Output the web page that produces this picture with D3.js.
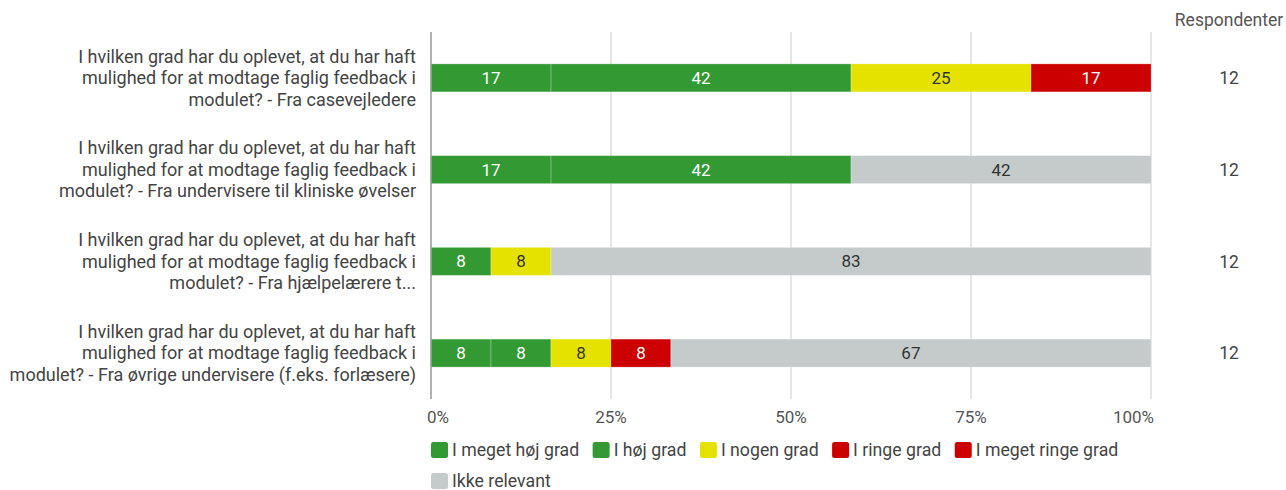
<!DOCTYPE html>
<html>
<head>
<meta charset="utf-8">
<script src="https://cdn.jsdelivr.net/npm/d3@7"></script>
<style>
  body { margin: 0; background: #fff; }
  svg { font-family: Roboto, "Noto Sans", sans-serif; }
</style>
</head>
<body>
<svg id="chart" width="1286" height="490"></svg>
<script>
// questions (y categories)
const questions = [
  ['I hvilken grad har du oplevet, at du har haft', 'mulighed for at modtage faglig feedback i', 'modulet? - Fra casevejledere'],
  ['I hvilken grad har du oplevet, at du har haft', 'mulighed for at modtage faglig feedback i', 'modulet? - Fra undervisere til kliniske øvelser'],
  ['I hvilken grad har du oplevet, at du har haft', 'mulighed for at modtage faglig feedback i', 'modulet? - Fra hjælpelærere t...'],
  ['I hvilken grad har du oplevet, at du har haft', 'mulighed for at modtage faglig feedback i', 'modulet? - Fra øvrige undervisere (f.eks. forlæsere)']
];
const series = ['I meget høj grad', 'I høj grad', 'I nogen grad', 'I ringe grad', 'I meget ringe grad', 'Ikke relevant'];
const colors = ['#339933', '#339933', '#e6e200', '#cc0000', '#cc0000', '#c5cbca'];

// percentages per series, one entry per question
const megetHoj = [16.67, 16.67, 8.33, 8.33];
const hoj = [41.67, 41.67, 0, 8.33];
const nogen = [25, 0, 8.33, 8.33];
const ringe = [16.67, 0, 0, 8.33];
const megetRinge = [0, 0, 0, 0];
const ikkeRelevant = [0, 41.67, 83.33, 66.67];
const respondents = [12, 12, 12, 12];
const ticks = [0, 25, 50, 75, 100];

const values = [megetHoj, hoj, nogen, ringe, megetRinge, ikkeRelevant];

const svg = d3.select('#chart');
const x = d3.scaleLinear().domain([0, 100]).range([431, 1151]);
const y = d3.scaleBand().domain(d3.range(questions.length)).range([32, 399])
  .paddingInner(0.695).paddingOuter(0.3475);

// grid
svg.append('g').selectAll('line').data(ticks.slice(1)).enter().append('line')
  .attr('x1', d => x(d)).attr('x2', d => x(d))
  .attr('y1', 32).attr('y2', 399)
  .attr('stroke', '#cccccc').attr('stroke-width', 1);

// stacked data
const rows = questions.map((q, i) => {
  let acc = 0;
  return values.map((v, s) => {
    const seg = { row: i, s: s, x0: acc, x1: acc + v[i], v: v[i] };
    acc += v[i];
    return seg;
  }).filter(d => d.v > 0);
});

const bars = svg.append('g');
rows.forEach(segs => {
  const g = bars.append('g');
  g.selectAll('rect').data(segs).enter().append('rect')
    .attr('x', d => x(d.x0))
    .attr('width', d => x(d.x1) - x(d.x0))
    .attr('y', d => y(d.row))
    .attr('height', y.bandwidth())
    .attr('fill', d => colors[d.s])
    .attr('stroke', 'rgba(255,255,255,0.25)')
    .attr('stroke-width', 1);
  g.selectAll('text').data(segs).enter().append('text')
    .attr('x', d => (x(d.x0) + x(d.x1)) / 2)
    .attr('y', d => y(d.row) + y.bandwidth() / 2)
    .attr('dy', '0.35em')
    .attr('text-anchor', 'middle')
    .attr('font-size', 17)
    .attr('fill', d => (d.s === 2 || d.s === 5) ? '#333333' : '#ffffff')
    .text(d => Math.round(d.v));
});

// left axis line
svg.append('line')
  .attr('x1', x(0)).attr('x2', x(0)).attr('y1', 32).attr('y2', 399)
  .attr('stroke', '#999999').attr('stroke-width', 1.5);

// tick labels
svg.append('g').selectAll('text').data(ticks).enter().append('text')
  .attr('x', d => d === 0 ? 427 : d === 100 ? 1154 : x(d))
  .attr('y', 417)
  .attr('dy', '0.35em')
  .attr('text-anchor', d => d === 0 ? 'start' : d === 100 ? 'end' : 'middle')
  .attr('font-size', 17)
  .attr('fill', '#555555')
  .text(d => d + '%');

// question labels
questions.forEach((lines, i) => {
  const cy = y(i) + y.bandwidth() / 2;
  const t = svg.append('text')
    .attr('text-anchor', 'end')
    .attr('font-size', 18)
    .attr('fill', '#444444');
  lines.forEach((l, k) => {
    t.append('tspan')
      .attr('x', 416)
      .attr('y', cy + (k - 1) * 21.5)
      .attr('dy', '0.35em')
      .text(l);
  });
});

// respondents column
svg.append('text').attr('x', 1229).attr('y', 20).attr('dy', '0.35em')
  .attr('text-anchor', 'middle').attr('font-size', 17.5).attr('fill', '#555555')
  .text('Respondenter');
svg.append('g').selectAll('text').data(respondents).enter().append('text')
  .attr('x', 1229)
  .attr('y', (d, i) => y(i) + y.bandwidth() / 2)
  .attr('dy', '0.35em')
  .attr('text-anchor', 'middle').attr('font-size', 17.5).attr('fill', '#444444')
  .text(d => d);

// legend
const legend = svg.append('g');
let lx = 431, ly = 450;
series.forEach((name, i) => {
  if (i === 5) { lx = 431; ly = 481; }
  const item = legend.append('g').attr('transform', `translate(${lx},${ly})`);
  item.append('rect').attr('x', 0).attr('y', -8).attr('width', 17).attr('height', 16)
    .attr('rx', 2.5).attr('fill', colors[i]);
  const t = item.append('text').attr('x', 21).attr('dy', '0.35em')
    .attr('font-size', 17.7).attr('fill', '#444444').text(name);
  lx += 21 + t.node().getComputedTextLength() + 13.5;
});
</script>
</body>
</html>
